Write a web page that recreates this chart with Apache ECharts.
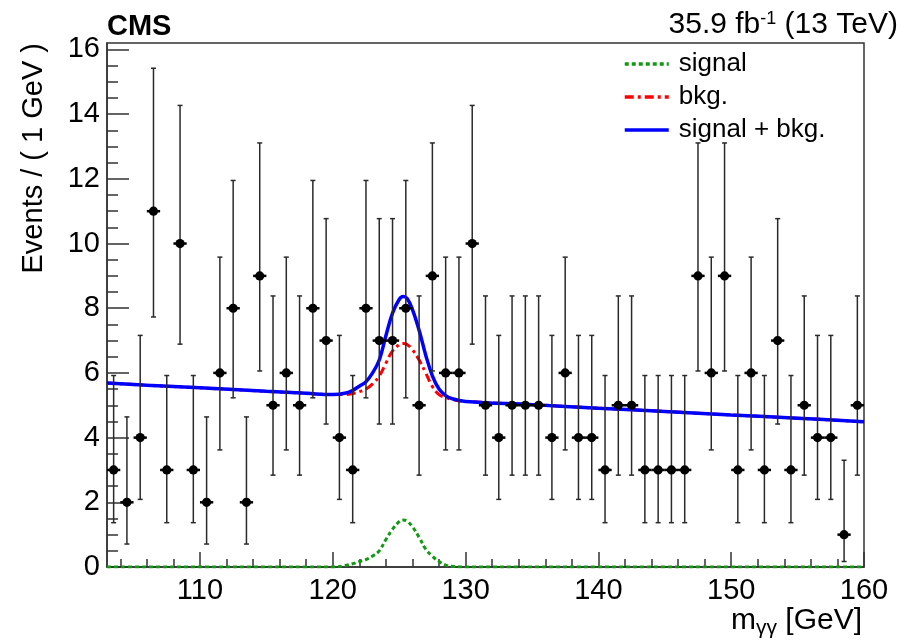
<!DOCTYPE html>
<html><head><meta charset="utf-8">
<script src="https://cdn.jsdelivr.net/npm/echarts@6/dist/echarts.min.js"></script>
<style>html,body{margin:0;padding:0;background:#fff}#c{width:919px;height:644px}</style>
</head><body><div id="c"></div>
<script>
// ---- data ----
const binCenters = [103.5,104.5,105.5,106.5,107.5,108.5,109.5,110.5,111.5,112.5,113.5,114.5,115.5,116.5,117.5,118.5,119.5,120.5,121.5,122.5,123.5,124.5,125.5,126.5,127.5,128.5,129.5,130.5,131.5,132.5,133.5,134.5,135.5,136.5,137.5,138.5,139.5,140.5,141.5,142.5,143.5,144.5,145.5,146.5,147.5,148.5,149.5,150.5,151.5,152.5,153.5,154.5,155.5,156.5,157.5,158.5,159.5];
const observed = [3,2,4,11,3,10,3,2,6,8,2,9,5,6,5,8,7,4,3,8,7,7,8,5,9,6,6,10,5,4,5,5,5,4,6,4,4,3,5,5,3,3,3,3,9,6,9,3,6,3,7,3,5,4,4,1,5];
// asymmetric error bar extents, indexed by event count
const errDown = [0,0.83,1.29,1.63,1.91,2.16,2.38,2.58,2.77,2.94,3.11,3.27];
const errUp   = [1.84,2.30,2.64,2.92,3.16,3.38,3.58,3.77,3.95,4.11,4.27,4.42];

const curveMass = [103,106,110,115,118,120,121,121.5,122,122.5,123,123.5,124,124.5,125,125.3,125.6,126,126.5,127,127.5,128,128.5,129,130,135,140,145,150,155,160];
const signalCurve = [0,0,0,0,0,0,0.05,0.1,0.17,0.23,0.34,0.5,0.85,1.17,1.4,1.45,1.42,1.24,0.92,0.55,0.33,0.17,0.06,0.02,0,0,0,0,0,0,0];
const bkgCurve = [5.69,5.62,5.54,5.43,5.37,5.33,5.33,5.36,5.42,5.50,5.66,5.90,6.30,6.68,6.87,6.91,6.88,6.72,6.40,6.00,5.58,5.33,5.24,5.18,5.12,5.02,4.91,4.81,4.70,4.60,4.49];
const sumCurve = [5.69,5.62,5.54,5.43,5.37,5.33,5.38,5.46,5.59,5.73,6.00,6.40,7.15,7.85,8.27,8.36,8.30,7.96,7.32,6.55,5.91,5.50,5.30,5.20,5.12,5.02,4.91,4.81,4.70,4.60,4.49];

const xMajorTicks = [110,120,130,140,150,160];
const xMinorTicks = [104,106,108,112,114,116,118,122,124,126,128,132,134,136,138,142,144,146,148,152,154,156,158];
const yMajorTicks = [0,2,4,6,8,10,12,14,16];
const yMinorTicks = [0.5,1,1.5,2.5,3,3.5,4.5,5,5.5,6.5,7,7.5,8.5,9,9.5,10.5,11,11.5,12.5,13,13.5,14.5,15,15.5];

// ---- chart ----
const FONT = '"Liberation Sans", Arial, Helvetica, sans-serif';
const AX = '#333';
const zip = (xs, ys) => xs.map((x, i) => [x, ys[i]]);
const pointData = binCenters.map((x, i) => [x, observed[i], errDown[observed[i]], errUp[observed[i]]]);

const chart = echarts.init(document.getElementById('c'), null, {renderer: 'canvas'});
chart.setOption({
  animation: false,
  backgroundColor: '#fff',
  grid: {left: 107, right: 55, top: 43, bottom: 77, show: true, borderColor: AX, borderWidth: 1.5, backgroundColor: 'transparent'},
  legend: {
    orient: 'vertical', left: 618, top: 46, itemWidth: 44, itemHeight: 14, itemGap: 7,
    itemStyle: {opacity: 0},
    lineStyle: {width: 3.5},
    textStyle: {fontFamily: FONT, fontSize: 26, color: '#000', padding: [0, 0, 0, 5]},
    data: ['signal', 'bkg.', 'signal + bkg.']
  },
  xAxis: [
    {type: 'value', min: 103, max: 160, position: 'bottom',
     axisLine: {show: true, onZero: false, lineStyle: {color: AX, width: 1.5}},
     axisTick: {show: true, inside: true, length: 15, customValues: xMajorTicks, lineStyle: {color: AX, width: 1.5}},
     axisLabel: {customValues: xMajorTicks, fontFamily: FONT, fontSize: 29, color: '#000', margin: 9},
     splitLine: {show: false}},
    {type: 'value', min: 103, max: 160, position: 'bottom',
     axisLine: {show: false}, axisLabel: {show: false}, splitLine: {show: false},
     axisTick: {show: true, inside: true, length: 8, customValues: xMinorTicks, lineStyle: {color: AX, width: 1.5}}}
  ],
  yAxis: [
    {type: 'value', min: 0, max: 16.2, position: 'left',
     axisLine: {show: true, onZero: false, lineStyle: {color: AX, width: 1.5}},
     axisTick: {show: true, inside: true, length: 22, customValues: yMajorTicks, lineStyle: {color: AX, width: 1.5}},
     axisLabel: {customValues: yMajorTicks, fontFamily: FONT, fontSize: 29, color: '#000', margin: 7},
     splitLine: {show: false}},
    {type: 'value', min: 0, max: 16.2, position: 'left',
     axisLine: {show: false}, axisLabel: {show: false}, splitLine: {show: false},
     axisTick: {show: true, inside: true, length: 11, customValues: yMinorTicks, lineStyle: {color: AX, width: 1.5}}}
  ],
  series: [
    {name: 'signal', type: 'line', data: zip(curveMass, signalCurve), symbol: 'none', smooth: 0.4, z: 3,
     lineStyle: {color: '#129912', width: 3, type: [4, 3]}, itemStyle: {color: '#129912'}},
    {name: 'bkg.', type: 'line', data: zip(curveMass, bkgCurve), symbol: 'none', smooth: 0.4, z: 3,
     lineStyle: {color: '#ff0000', width: 3, type: [9, 4, 3, 4]}, itemStyle: {color: '#ff0000'}},
    {name: 'signal + bkg.', type: 'line', data: zip(curveMass, sumCurve), symbol: 'none', smooth: 0.4, z: 4,
     lineStyle: {color: '#0000ff', width: 3.5}, itemStyle: {color: '#0000ff'}},
    {name: 'data', type: 'custom', z: 6, data: pointData,
     renderItem: function (params, api) {
       const x = api.value(0), y = api.value(1), lo = api.value(2), hi = api.value(3);
       const c = api.coord([x, y]);
       const top = api.coord([x, y + hi]);
       const bot = api.coord([x, y - lo]);
       const l = api.coord([x - 0.5, y]);
       const r = api.coord([x + 0.5, y]);
       const es = {stroke: '#2a2a2a', lineWidth: 1.5};
       return {type: 'group', children: [
         {type: 'line', shape: {x1: c[0], y1: top[1], x2: c[0], y2: bot[1]}, style: es},
         {type: 'line', shape: {x1: c[0] - 2.5, y1: top[1], x2: c[0] + 2.5, y2: top[1]}, style: es},
         {type: 'line', shape: {x1: c[0] - 2.5, y1: bot[1], x2: c[0] + 2.5, y2: bot[1]}, style: es},
         {type: 'line', shape: {x1: l[0], y1: c[1], x2: r[0], y2: c[1]}, style: {stroke: '#000', lineWidth: 2.5}},
         {type: 'circle', shape: {cx: c[0], cy: c[1], r: 4.6}, style: {fill: '#000'}}
       ]};
     }}
  ],
  graphic: [
    {type: 'text', x: 107, y: 27, style: {text: 'CMS', fontFamily: FONT, fontSize: 29, fontWeight: 'bold', fill: '#000', align: 'left', verticalAlign: 'middle'}},
    {type: 'text', x: 898, y: 25, style: {
      text: '{m|35.9 fb}{s|-1}{m| (13 TeV)}', fontFamily: FONT, align: 'right', verticalAlign: 'middle',
      rich: {m: {fontFamily: FONT, fontSize: 30, lineHeight: 30, fill: '#000', verticalAlign: 'top'},
             s: {fontFamily: FONT, fontSize: 18, lineHeight: 18, fill: '#000', verticalAlign: 'top'}}}},
    {type: 'text', x: 34, y: 43, rotation: Math.PI / 2, style: {text: 'Events / ( 1 GeV )', fontFamily: FONT, fontSize: 29, fill: '#000', align: 'right', verticalAlign: 'middle'}},
    {type: 'text', x: 862, y: 621, style: {
      text: '{m|m}{s|γγ}{m| [GeV]}', fontFamily: FONT, align: 'right', verticalAlign: 'middle',
      rich: {m: {fontFamily: FONT, fontSize: 30, lineHeight: 30, fill: '#000', verticalAlign: 'top'},
             s: {fontFamily: FONT, fontSize: 21, lineHeight: 21, fill: '#000', verticalAlign: 'top', padding: [12, 0, 0, 0]}}}}
  ]
});
</script></body></html>
